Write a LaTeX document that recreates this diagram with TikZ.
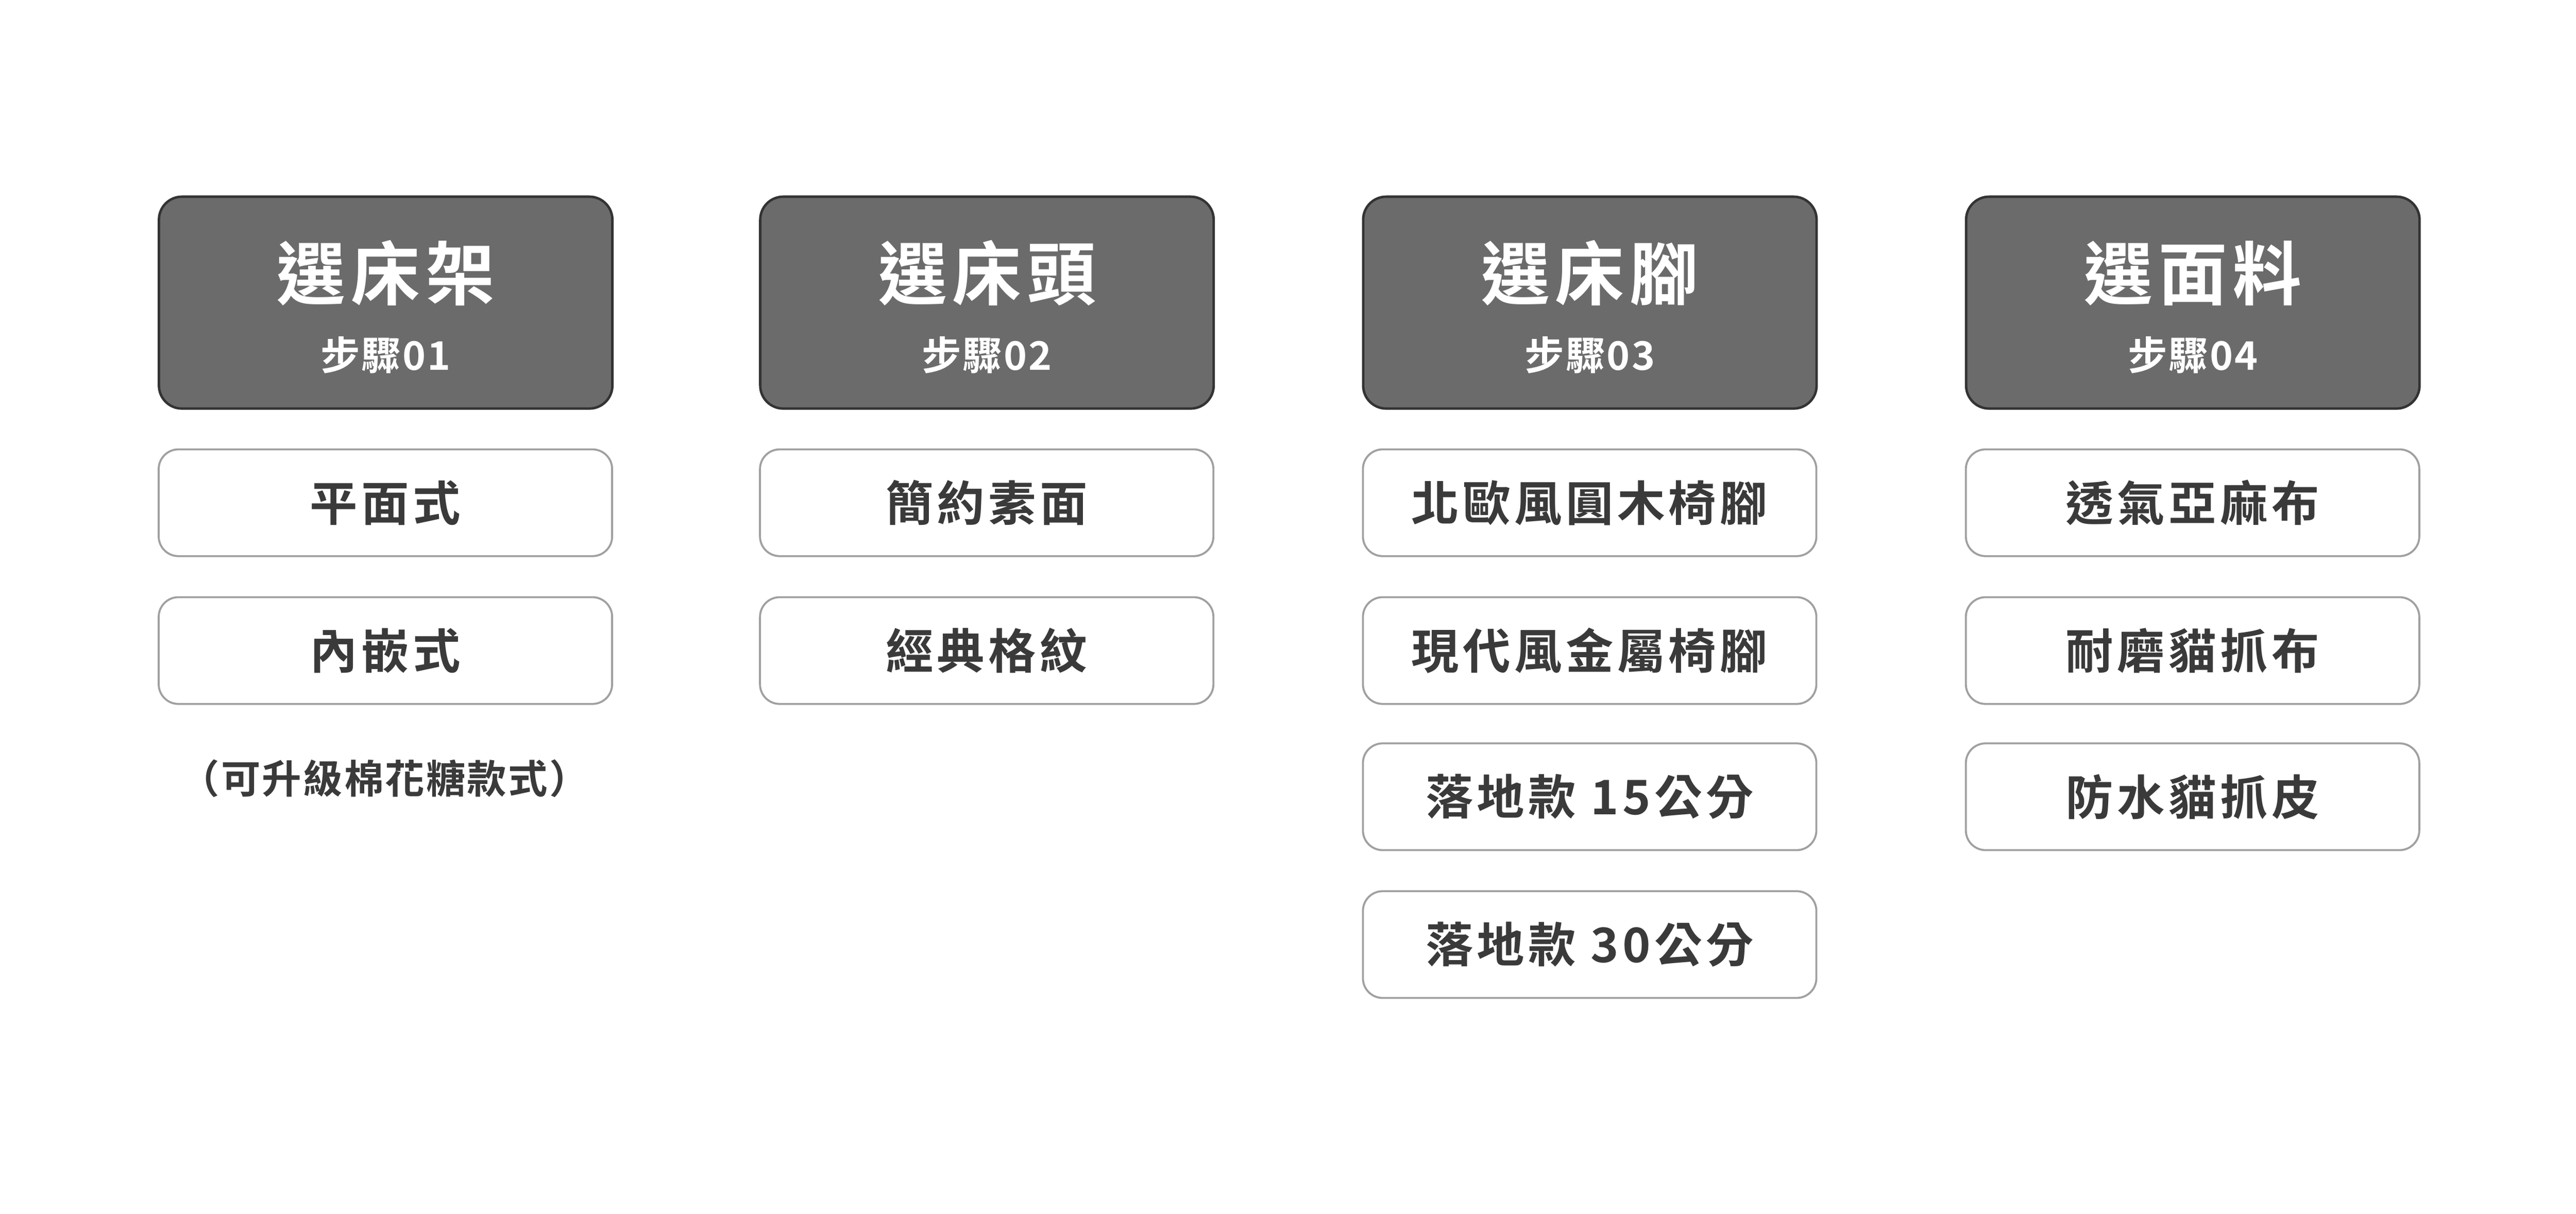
\documentclass[tikz,border=0pt]{standalone}
\usepackage{fontspec}
\newfontfamily\cjk[LetterSpace=8]{Noto Sans CJK TC Bold}
\newfontfamily\cjkb[LetterSpace=4]{Noto Sans CJK TC Bold}
\definecolor{hdr}{HTML}{6B6B6B}
\definecolor{hdrline}{HTML}{333333}
\definecolor{txt}{HTML}{3A3A3A}
\definecolor{subline}{HTML}{A0A0A0}
\tikzset{
  hdrbox/.style={draw=hdrline,line width=1.5pt,fill=hdr,rounded corners=14pt,minimum width=276pt,minimum height=129pt,anchor=north west,inner sep=0pt},
  subbox/.style={draw=subline,line width=1.2pt,fill=white,rounded corners=12pt,minimum width=276pt,minimum height=65pt,anchor=north west,inner sep=0pt,text=txt,font=\cjk\fontsize{29}{32}\selectfont},
  steplbl/.style={text=white,font=\cjkb\fontsize{24}{26}\selectfont},
  titlelbl/.style={text=white,font=\cjk\fontsize{42}{46}\selectfont},
}
\begin{document}
\begin{tikzpicture}[x=1pt,y=-1pt]
\useasboundingbox[fill=white] (0,0) rectangle (1568,739);
\foreach \i/\x/\s/\t in {1/96/01/選床架,2/462/02/選床頭,3/829/03/選床腳,4/1196/04/選面料}{
  \node[hdrbox] (h\i) at (\x,119) {};
  \node[steplbl] (s\i) at ([yshift=-32pt]h\i.center) {步驟\s};
  \node[titlelbl] (t\i) at ([yshift=18pt]h\i.center) {\t};
}
\node[subbox] (a1) at (96,273) {平面式};
\node[subbox] (a2) at (96,363) {內嵌式};
\node[text=txt,font=\cjkb\fontsize{24}{26}\selectfont] (note) at (234,474) {（可升級棉花糖款式）};
\node[subbox] (b1) at (462,273) {簡約素面};
\node[subbox] (b2) at (462,363) {經典格紋};
\node[subbox] (c1) at (829,273) {北歐風圓木椅腳};
\node[subbox] (c2) at (829,363) {現代風金屬椅腳};
\node[subbox] (c3) at (829,452) {落地款 15公分};
\node[subbox] (c4) at (829,542) {落地款 30公分};
\node[subbox] (d1) at (1196,273) {透氣亞麻布};
\node[subbox] (d2) at (1196,363) {耐磨貓抓布};
\node[subbox] (d3) at (1196,452) {防水貓抓皮};
\end{tikzpicture}
\end{document}
